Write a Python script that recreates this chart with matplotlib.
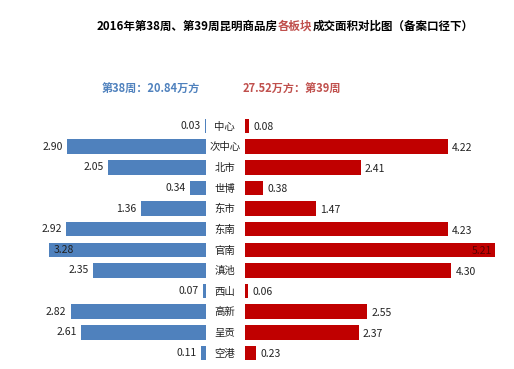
import matplotlib.pyplot as plt
import numpy as np

plt.rcParams['font.family'] = ['Noto Sans CJK SC', 'DejaVu Sans']

# 数据
regions = ['中心', '次中心', '北市', '世博', '东市', '东南', '官南', '滇池', '西山', '高新', '呈贡', '空港']
week38 = [0.03, 2.90, 2.05, 0.34, 1.36, 2.92, 3.28, 2.35, 0.07, 2.82, 2.61, 0.11]
week39 = [0.08, 4.22, 2.41, 0.38, 1.47, 4.23, 5.21, 4.30, 0.06, 2.55, 2.37, 0.23]
total38 = '20.84'
total39 = '27.52'

blue = '#4F81BD'
red = '#C00000'
red_text = '#C0504D'

W, H = 514, 369
fig = plt.figure(figsize=(W / 100, H / 100), dpi=100)

px = 48.0  # 每万方对应的像素
top_px, bot_px = 115.7, 363.3
ax_b = 1 - bot_px / H
ax_h = (bot_px - top_px) / H

axL = fig.add_axes([0, ax_b, 206 / W, ax_h])
axR = fig.add_axes([245 / W, ax_b, (W - 245) / W, ax_h])

y = np.arange(len(regions))
axL.barh(y, week38, height=0.7, color=blue)
axR.barh(y, week39, height=0.7, color=red)

axL.set_xlim(206 / px, 0)
axR.set_xlim(0, (W - 245) / px)
for ax in (axL, axR):
    ax.set_ylim(len(regions) - 0.5, -0.5)
    ax.axis('off')

# 数值标签
for i, v in enumerate(week38):
    if v > 3.2:
        axL.annotate(f'{v:.2f}', (v, i), xytext=(4, 0), textcoords='offset points',
                     ha='left', va='center', fontsize=7.5, color='#222222')
    else:
        axL.annotate(f'{v:.2f}', (v, i), xytext=(-3, 0), textcoords='offset points',
                     ha='right', va='center', fontsize=7.5, color='#222222')
for i, v in enumerate(week39):
    if v > 5:
        axR.annotate(f'{v:.2f}', (v, i), xytext=(-2, -1), textcoords='offset points',
                     ha='right', va='center', fontsize=7.5, color='#5a0000')
    else:
        axR.annotate(f'{v:.2f}', (v, i), xytext=(3, -1), textcoords='offset points',
                     ha='left', va='center', fontsize=7.5, color='#222222')

# 板块名称
for i, name in enumerate(regions):
    axR.annotate(name, (0, i), xytext=(-14.5, -0.5), textcoords='offset points',
                 ha='center', va='center', fontsize=7.5, color='#222222')

# 标题（中间部分为红色）
t1 = fig.text(97 / W, 1 - 26 / H, '2016年第38周、第39周昆明商品房', fontsize=8.3,
              fontweight='bold', ha='left', va='center', color='black')
t2 = fig.text(0, 0, '各板块', fontsize=8.3, fontweight='bold', color=red_text)
t2.remove()
t2 = plt.annotate('各板块', xy=(1, 0), xycoords=t1, va='bottom', ha='left',
                  fontsize=8.3, fontweight='bold', color=red_text)
t3 = plt.annotate('成交面积对比图（备案口径下）', xy=(1, 0), xycoords=t2, va='bottom', ha='left',
                  fontsize=8.3, fontweight='bold', color='black')

fig.text(102 / W, 1 - 89 / H, f'第38周：{total38}万方', fontsize=8, fontweight='bold',
         ha='left', va='center', color=blue)
fig.text(243 / W, 1 - 89 / H, f'{total39}万方：第39周', fontsize=8, fontweight='bold',
         ha='left', va='center', color=red_text)

fig.savefig('out.png', dpi=100)
